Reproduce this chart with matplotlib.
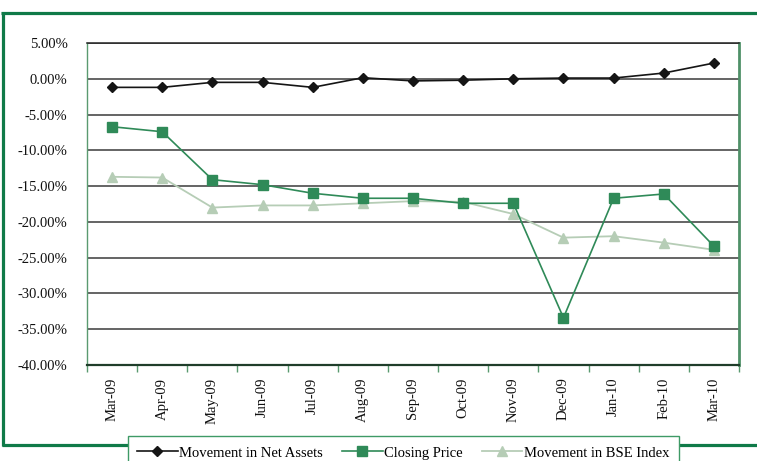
import matplotlib
matplotlib.use("Agg")
import matplotlib.pyplot as plt
from matplotlib.lines import Line2D
from matplotlib.patches import Rectangle
from matplotlib.ticker import FixedLocator, FuncFormatter

months = ["Mar-09", "Apr-09", "May-09", "Jun-09", "Jul-09", "Aug-09", "Sep-09",
          "Oct-09", "Nov-09", "Dec-09", "Jan-10", "Feb-10", "Mar-10"]
net_assets = [-1.2, -1.2, -0.5, -0.5, -1.2, 0.15, -0.3, -0.2, 0.0, 0.1, 0.1, 0.8, 2.2]
closing_price = [-6.7, -7.4, -14.1, -14.8, -16.0, -16.7, -16.7, -17.4, -17.4, -33.4, -16.7, -16.1, -23.4]
bse_index = [-13.7, -13.8, -18.0, -17.7, -17.7, -17.4, -17.1, -17.2, -18.9, -22.2, -22.0, -22.9, -23.9]
y_ticks = [5, 0, -5, -10, -15, -20, -25, -30, -35, -40]

W, H = 757, 461
plt.rcParams['font.family'] = ['Liberation Serif', 'DejaVu Serif']
fig = plt.figure(figsize=(W / 100, H / 100), dpi=100)

def fx(px):
    return px / W

def fy(py):
    return 1 - py / H

ax = fig.add_axes([fx(87), fy(365), fx(739) - fx(87), fy(43) - fy(365)])
x = list(range(len(months)))

c_net = "#151515"
c_close = "#2f8a58"
c_bse = "#b6cdb6"

ax.plot(x, bse_index, color=c_bse, lw=1.3, marker="^", ms=7, zorder=3)
ax.plot(x, closing_price, color=c_close, lw=1.2, marker="s", ms=6.5, zorder=4)
ax.plot(x, net_assets, color=c_net, lw=1.2, marker="D", ms=5, zorder=5)

ax.set_xlim(-0.5, len(months) - 0.5)
ax.set_ylim(-40, 5)
ax.yaxis.set_major_locator(FixedLocator(y_ticks))
ax.yaxis.set_major_formatter(FuncFormatter(lambda v, p: ("%.2f%%" % v).replace("\u2212", "-")))
ax.grid(axis="y", color="#3a3a3a", lw=1.1, zorder=1)
ax.tick_params(axis="y", length=0, pad=14, labelsize=10.5, labelcolor="#111111")

ax.set_xticks(x)
ax.set_xticklabels(months, rotation=90, fontsize=10.5, color="#111111")
ax.set_xticks([i - 0.5 for i in range(len(months) + 1)], minor=True)
ax.tick_params(axis="x", which="major", length=0, pad=9)
ax.tick_params(axis="x", which="minor", length=5, color="#5a9a70", width=1)

ax.spines["top"].set_color("#222222")
ax.spines["top"].set_linewidth(1.1)
ax.spines["left"].set_color("#5a9a70")
ax.spines["left"].set_linewidth(1.0)
ax.spines["right"].set_color("#4f9068")
ax.spines["right"].set_linewidth(2.0)
ax.spines["bottom"].set_color("#1f3d2a")
ax.spines["bottom"].set_linewidth(1.6)

# outer green frame
fc = "#0f7a48"
fig.add_artist(Line2D([fx(1), fx(760)], [fy(13.5), fy(13.5)], color=fc, lw=2.3, solid_capstyle="butt"))
fig.add_artist(Line2D([fx(3), fx(3)], [fy(12.5), fy(445.5)], color=fc, lw=2.3, solid_capstyle="butt"))
fig.add_artist(Line2D([fx(2), fx(760)], [fy(444.5), fy(444.5)], color=fc, lw=2.3, solid_capstyle="butt"))

# legend box
fig.add_artist(Rectangle((fx(128), fy(475)), fx(679) - fx(128), fy(436.5) - fy(475),
                         facecolor="white", edgecolor="#3f9a66", lw=1.0, zorder=10,
                         transform=fig.transFigure, clip_on=False))
handles = [
    Line2D([], [], color=c_net, lw=1.2, marker="D", ms=5),
    Line2D([], [], color=c_close, lw=1.2, marker="s", ms=6.5),
    Line2D([], [], color=c_bse, lw=1.3, marker="^", ms=7),
]
leg = fig.legend(handles, ["Movement in Net Assets", "Closing Price", "Movement in BSE Index"],
                 loc="center", bbox_to_anchor=(fx(403), fy(453)), ncol=3, frameon=False,
                 fontsize=10.5, handlelength=2.8, handletextpad=0.1, columnspacing=1.3,
                 borderpad=0)
leg.set_zorder(11)

fig.savefig("out.png", dpi=100)
